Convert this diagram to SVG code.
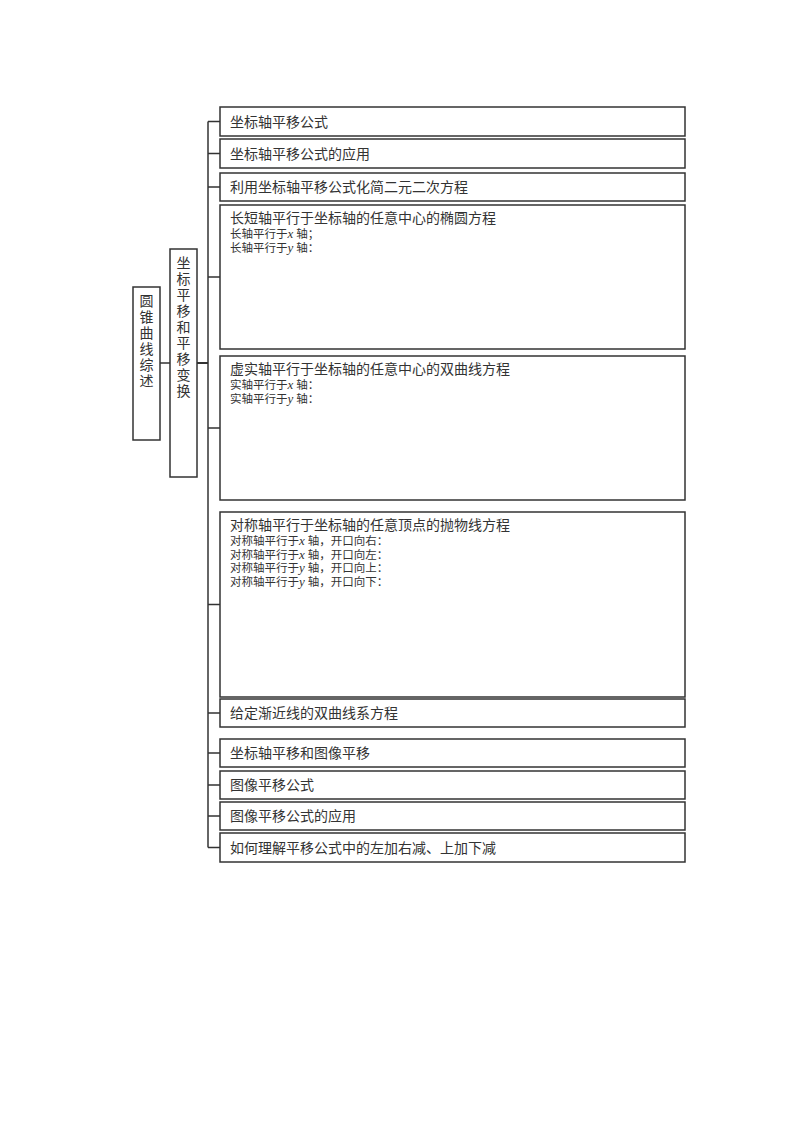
<svg xmlns="http://www.w3.org/2000/svg" width="800" height="1132" viewBox="0 0 800 1132">
<style>
.bg{fill:#fff}
.box{fill:#fff;stroke:#333;stroke-width:1.5}
.t{font-family:"Liberation Serif","Noto Sans CJK SC",serif;font-size:14px;fill:#333}
.s{font-family:"Liberation Serif","Noto Sans CJK SC",serif;font-size:11.5px;fill:#333}
.v{font-family:"Liberation Serif",serif;font-style:italic;font-size:13px}
.vt{font-family:"Liberation Serif","Noto Sans CJK SC",serif;font-size:14px;fill:#333;text-anchor:middle}
.ln{fill:none;stroke:#333;stroke-width:1.5}
</style>
<rect class="bg" x="0" y="0" width="800" height="1132"/>
<g id="connectors">
<path class="ln" d="M160,363H170"/>
<path class="ln" d="M197,363H208" style="stroke-width:2"/>
<path class="ln" d="M208,121.5V847.5"/>
<path class="ln" d="M208,121.5H220M208,153.5H220M208,187H220M208,277H220M208,428H220M208,604.5H220M208,713H220M208,753H220M208,785H220M208,816H220M208,847.5H220"/>
</g>
<g id="root">
<rect class="box" x="133" y="287" width="27" height="153"/>
<text class="vt"><tspan x="146.5" y="306">圆</tspan><tspan x="146.5" y="322">锥</tspan><tspan x="146.5" y="338">曲</tspan><tspan x="146.5" y="354">线</tspan><tspan x="146.5" y="370">综</tspan><tspan x="146.5" y="386">述</tspan></text>
</g>
<g id="mid">
<rect class="box" x="170" y="249" width="27" height="228"/>
<text class="vt"><tspan x="183.5" y="268">坐</tspan><tspan x="183.5" y="284">标</tspan><tspan x="183.5" y="300">平</tspan><tspan x="183.5" y="316">移</tspan><tspan x="183.5" y="332">和</tspan><tspan x="183.5" y="348">平</tspan><tspan x="183.5" y="364">移</tspan><tspan x="183.5" y="380">变</tspan><tspan x="183.5" y="396">换</tspan></text>
</g>
<g id="n1">
<rect class="box" x="220" y="107" width="465" height="29"/>
<text class="t" x="230" y="126.5">坐标轴平移公式</text>
</g>
<g id="n2">
<rect class="box" x="220" y="139" width="465" height="29"/>
<text class="t" x="230" y="158.5">坐标轴平移公式的应用</text>
</g>
<g id="n3">
<rect class="box" x="220" y="173" width="465" height="28"/>
<text class="t" x="230" y="192">利用坐标轴平移公式化简二元二次方程</text>
</g>
<g id="n4">
<rect class="box" x="220" y="205" width="465" height="144"/>
<text class="t" x="230" y="223">长短轴平行于坐标轴的任意中心的椭圆方程</text>
<text class="s" x="230" y="238">长轴平行于<tspan class="v">x</tspan> 轴；</text>
<text class="s" x="230" y="252">长轴平行于<tspan class="v">y</tspan> 轴：</text>
</g>
<g id="n5">
<rect class="box" x="220" y="356" width="465" height="144"/>
<text class="t" x="230" y="374">虚实轴平行于坐标轴的任意中心的双曲线方程</text>
<text class="s" x="230" y="389">实轴平行于<tspan class="v">x</tspan> 轴：</text>
<text class="s" x="230" y="403">实轴平行于<tspan class="v">y</tspan> 轴：</text>
</g>
<g id="n6">
<rect class="box" x="220" y="512" width="465" height="185"/>
<text class="t" x="230" y="530">对称轴平行于坐标轴的任意顶点的抛物线方程</text>
<text class="s" x="230" y="545">对称轴平行于<tspan class="v">x</tspan> 轴，开口向右：</text>
<text class="s" x="230" y="558.5">对称轴平行于<tspan class="v">x</tspan> 轴，开口向左：</text>
<text class="s" x="230" y="572">对称轴平行于<tspan class="v">y</tspan> 轴，开口向上：</text>
<text class="s" x="230" y="585.5">对称轴平行于<tspan class="v">y</tspan> 轴，开口向下：</text>
</g>
<g id="n7">
<rect class="box" x="220" y="699" width="465" height="28"/>
<text class="t" x="230" y="718">给定渐近线的双曲线系方程</text>
</g>
<g id="n8">
<rect class="box" x="220" y="739" width="465" height="28"/>
<text class="t" x="230" y="758">坐标轴平移和图像平移</text>
</g>
<g id="n9">
<rect class="box" x="220" y="771" width="465" height="28"/>
<text class="t" x="230" y="790">图像平移公式</text>
</g>
<g id="n10">
<rect class="box" x="220" y="802" width="465" height="28"/>
<text class="t" x="230" y="821">图像平移公式的应用</text>
</g>
<g id="n11">
<rect class="box" x="220" y="833" width="465" height="29"/>
<text class="t" x="230" y="852.5">如何理解平移公式中的左加右减、上加下减</text>
</g>
</svg>
